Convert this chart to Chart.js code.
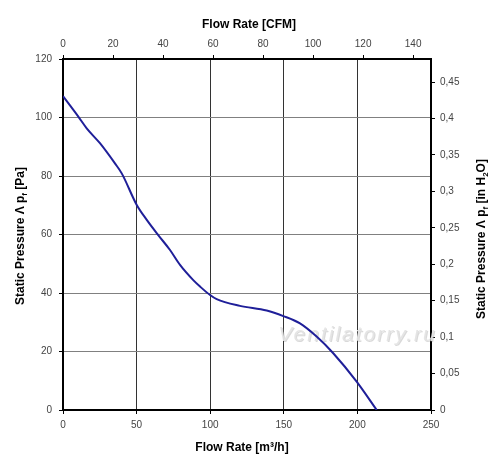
<!DOCTYPE html>
<html>
<head>
<meta charset="utf-8">
<script src="https://cdn.jsdelivr.net/npm/chart.js@4.4.1/dist/chart.umd.min.js"></script>
<style>
  html, body { margin: 0; padding: 0; background: #fff; }
  canvas { display: block; }
</style>
</head>
<body>
<canvas id="c" width="500" height="473"></canvas>
<script>
// Data (flow in m³/h, static pressure in Pa)
const flowM3h    = [0, 10.4, 16.1, 25.1, 35.3, 39.9, 50.1, 56.9, 64.7, 72.7, 79.5, 88.5, 93.1, 99.9, 104.4, 120.2, 138.4, 149.7, 161, 172.3, 183.6, 199.5, 213.1];
const pressurePa = [107.3, 100.3, 96.3, 91.2, 84.3, 80.9, 70.1, 65, 59.8, 54.7, 49.6, 44.4, 42.2, 39.3, 37.9, 35.6, 34.0, 32.1, 29.6, 25.1, 19.4, 9.7, 0];

// Axis ranges
const flowMax = 250;          // m³/h
const pressMax = 120;         // Pa
const M3H_PER_CFM = 1.699;
const INH2O_PER_PA = 0.0040146;
const cfmMax = flowMax / M3H_PER_CFM;
const inH2OMax = pressMax * INH2O_PER_PA;

const titleBottom = [{t: 'Flow Rate [m³/h]'}];
const titleTop = [{t: 'Flow Rate [CFM]'}];
const titleLeft = [{t: 'Static Pressure Λ p'}, {t: 'f', sub: true}, {t: ' [Pa]'}];
const titleRight = [{t: 'Static Pressure Λ p'}, {t: 'f', sub: true}, {t: ' [in H'}, {t: '2', sub: true}, {t: 'O]'}];
const watermark = 'Ventilatorry.ru';

const points = flowM3h.map((x, i) => ({x: x, y: pressurePa[i]}));

const FONT = "'Liberation Sans', Arial, sans-serif";

function drawRich(ctx, parts, cx, cy, rot) {
  const big = 'bold 12px ' + FONT;
  const small = 'bold 8px ' + FONT;
  let w = 0;
  parts.forEach(p => { ctx.font = p.sub ? small : big; w += ctx.measureText(p.t).width; });
  ctx.save();
  ctx.translate(cx, cy);
  if (rot) ctx.rotate(-Math.PI / 2);
  ctx.fillStyle = '#000';
  ctx.textBaseline = 'middle';
  ctx.textAlign = 'left';
  let x = -w / 2;
  parts.forEach(p => {
    ctx.font = p.sub ? small : big;
    ctx.fillText(p.t, x, p.sub ? 4 : 0);
    x += ctx.measureText(p.t).width;
  });
  ctx.restore();
}

const decorPlugin = {
  id: 'decor',
  beforeDatasetsDraw(chart) {
    const ctx = chart.ctx;
    ctx.save();
    ctx.font = "italic 21px 'Liberation Sans', Arial, sans-serif";
    try { ctx.letterSpacing = '2px'; } catch (e) {}
    ctx.textAlign = 'center';
    ctx.textBaseline = 'middle';
    ctx.fillStyle = 'rgba(170,170,170,0.45)';
    ctx.fillText(watermark, 358.5, 336);
    ctx.fillStyle = 'rgba(228,228,228,0.95)';
    ctx.fillText(watermark, 357.5, 335);
    ctx.restore();
  },
  afterDraw(chart) {
    const ctx = chart.ctx;
    drawRich(ctx, titleTop, 249, 25, false);
    drawRich(ctx, titleBottom, 242, 448, false);
    drawRich(ctx, titleLeft, 21, 236, true);
    drawRich(ctx, titleRight, 482, 239, true);
  }
};

const tickFont = {family: FONT, size: 10};
const tickColor = '#444';

new Chart(document.getElementById('c'), {
  type: 'line',
  data: {
    datasets: [{
      data: points,
      borderColor: '#1f1f99',
      borderWidth: 2,
      pointRadius: 0,
      fill: false,
      cubicInterpolationMode: 'monotone',
      xAxisID: 'x',
      yAxisID: 'y'
    }]
  },
  options: {
    responsive: false,
    animation: false,
    devicePixelRatio: 1,
    layout: {padding: 0},
    plugins: {legend: {display: false}, tooltip: {enabled: false}},
    scales: {
      x: {
        type: 'linear', position: 'bottom', min: 0, max: flowMax,
        ticks: {stepSize: 50, font: tickFont, color: tickColor, padding: 5, maxRotation: 0},
        grid: {color: '#333', lineWidth: 1, tickLength: 4, tickColor: '#000'},
        border: {color: '#000', width: 2},
        afterFit(s) { s.height = 63; }
      },
      x2: {
        type: 'linear', position: 'top', min: 0, max: cfmMax,
        ticks: {stepSize: 20, includeBounds: false, font: tickFont, color: tickColor, padding: 5, maxRotation: 0},
        grid: {drawOnChartArea: false, tickLength: 4, tickColor: '#000'},
        border: {color: '#000', width: 2},
        afterFit(s) { s.height = 59; }
      },
      y: {
        type: 'linear', position: 'left', min: 0, max: pressMax,
        ticks: {stepSize: 20, font: tickFont, color: tickColor, padding: 7},
        grid: {color: '#808080', lineWidth: 1, tickLength: 4, tickColor: '#000'},
        border: {color: '#000', width: 2},
        afterFit(s) { s.width = 63; }
      },
      y2: {
        type: 'linear', position: 'right', min: 0, max: inH2OMax,
        ticks: {
          stepSize: 0.05, includeBounds: false, font: tickFont, color: tickColor, padding: 5,
          callback: v => String(+v.toFixed(2)).replace('.', ',')
        },
        grid: {drawOnChartArea: false, tickLength: 4, tickColor: '#000'},
        border: {color: '#000', width: 2},
        afterFit(s) { s.width = 69; }
      }
    }
  },
  plugins: [decorPlugin]
});
</script>
</body>
</html>
